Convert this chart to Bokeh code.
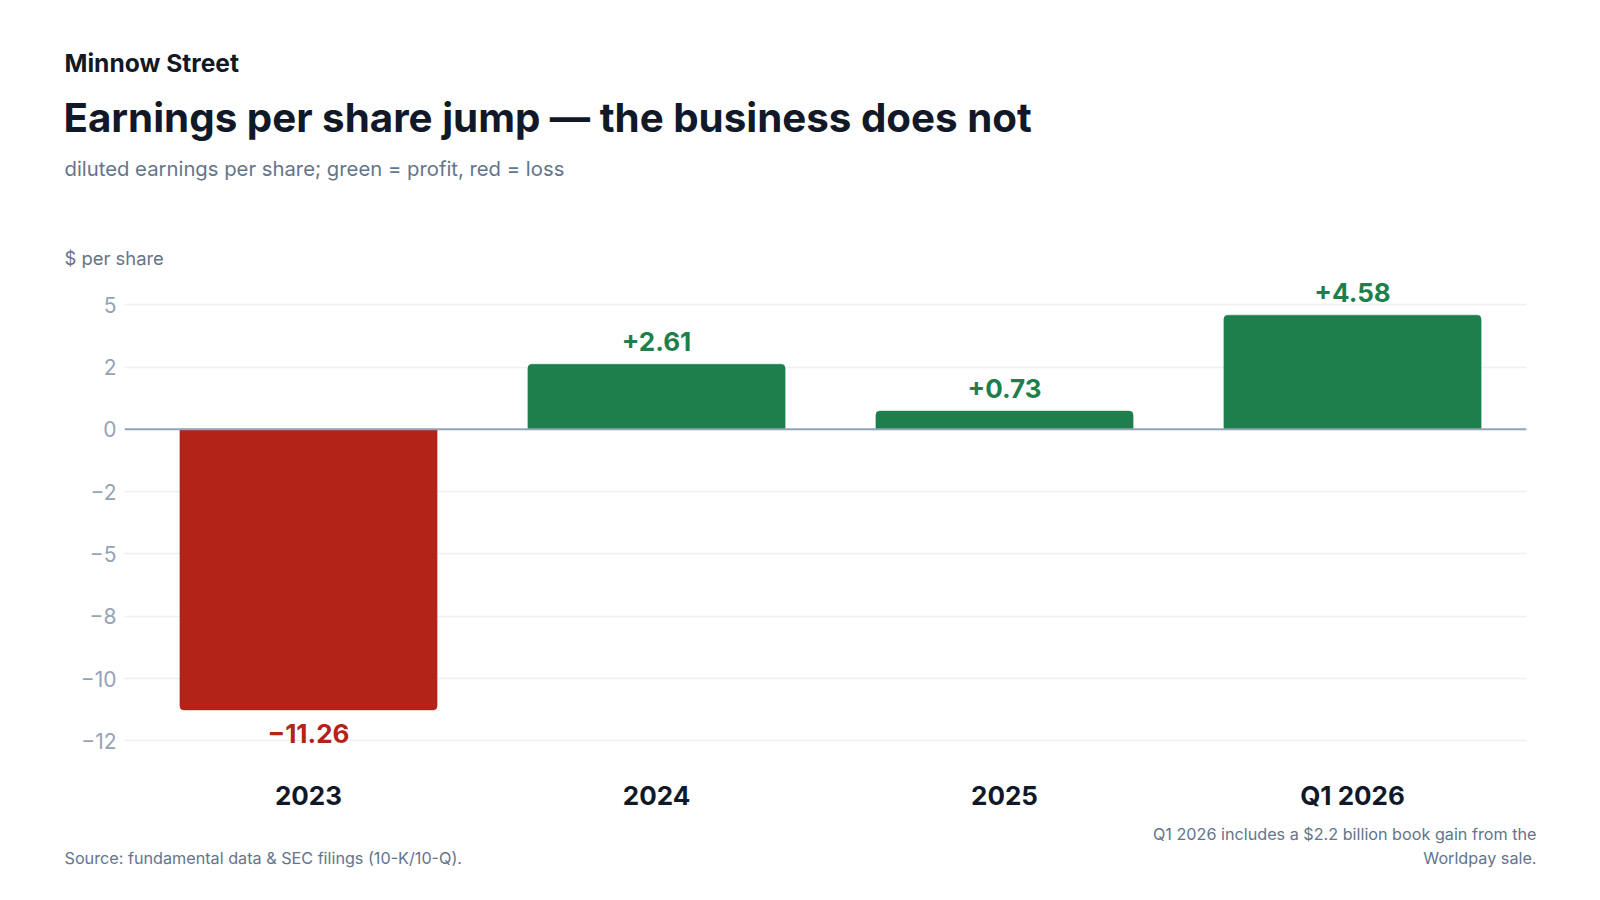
from bokeh.plotting import figure
from bokeh.layouts import column
from bokeh.models import (ColumnDataSource, Range1d, FixedTicker,
                          Span, Label, LabelSet)
from bokeh.core.properties import value
from bokeh.embed import file_html
from bokeh.resources import INLINE

# ---- data ----
periods = ["2023", "2024", "2025", "Q1 2026"]
eps = [-11.26, 2.61, 0.73, 4.58]
value_labels = ["\u221211.26", "+2.61", "+0.73", "+4.58"]
y_ticks = [5, 2.5, 0, -2.5, -5, -7.5, -10, -12.5]
y_tick_labels = ["5", "2", "0", "\u22122", "\u22125", "\u22128", "\u221210", "\u221212"]

GREEN = "#1e7f4c"
RED = "#b22318"
DARK = "#111827"
MUTED = "#64748b"
TICK = "#94a3b8"
GRID = "#edf0f4"
FONT = "Inter"
W = 1600

# ---- layout geometry (page pixels) ----
HEAD_H = 268
MAIN_TOP = HEAD_H
FRAME_TOP = 272
FRAME_BOT = 750
FRAME_L = 124
FRAME_R = 1526
BAND_L = 134          # where the first category band starts
ZERO_Y = 428.8
PX_PER_UNIT = 24.92
MAIN_BOT = 822
FOOT_H = 58


def text_strip(height):
    f = figure(width=W, height=height, x_range=Range1d(0, W), y_range=Range1d(0, height),
               x_axis_type=None, y_axis_type=None, output_backend="svg",
               toolbar_location=None, min_border=0)
    f.frame_align = False
    f.title.visible = False
    f.outline_line_color = None
    f.grid.visible = False
    f.background_fill_color = "white"
    f.border_fill_color = "white"
    return f


def lab(fig, top, height, text, px, py, size, color, style="normal", align="left"):
    fig.add_layout(Label(x=px, y=height - (py - top), x_units="screen", y_units="screen",
                         text=text, text_font=FONT, text_font_size=size,
                         text_color=color, text_font_style=style,
                         text_align=align, text_baseline="middle"))


# ---- header ----
head = text_strip(HEAD_H)
lab(head, 0, HEAD_H, "Minnow Street", 64, 62, "24.6px", DARK, "bold")
lab(head, 0, HEAD_H, "Earnings per share jump \u2014 the business does not", 63, 117, "40.3px", DARK, "bold")
lab(head, 0, HEAD_H, "diluted earnings per share; green = profit, red = loss", 64, 168, "20.3px", MUTED)
lab(head, 0, HEAD_H, "$ per share", 64, 257, "18.4px", MUTED)

# ---- main chart ----
n = len(periods)
xs = [i + 0.5 for i in range(n)]
pos = [i for i, v in enumerate(eps) if v >= 0]
neg = [i for i, v in enumerate(eps) if v < 0]

src_pos = ColumnDataSource(dict(
    x=[xs[i] for i in pos], top=[eps[i] for i in pos],
    bottom=[0] * len(pos), lab=[value_labels[i] for i in pos]))
src_neg = ColumnDataSource(dict(
    x=[xs[i] for i in neg], top=[0] * len(neg),
    bottom=[eps[i] for i in neg], lab=[value_labels[i] for i in neg]))

main_h = MAIN_BOT - MAIN_TOP
y_hi = (ZERO_Y - FRAME_TOP) / PX_PER_UNIT
y_lo = -(FRAME_BOT - ZERO_Y) / PX_PER_UNIT
band = (FRAME_R - BAND_L) / n
x_lo = -(BAND_L - FRAME_L) / band

p = figure(width=W, height=main_h, x_range=Range1d(x_lo, n),
           y_range=Range1d(y_lo, y_hi), output_backend="svg",
           toolbar_location=None, min_border_left=FRAME_L, min_border_right=W - FRAME_R,
           min_border_top=FRAME_TOP - MAIN_TOP, min_border_bottom=MAIN_BOT - FRAME_BOT)
p.frame_align = False
p.title.visible = False
p.outline_line_color = None
p.background_fill_color = "white"
p.border_fill_color = "white"

p.vbar(x="x", top="top", bottom="bottom", width=0.739, source=src_pos,
       fill_color=GREEN, line_color=GREEN, line_width=0.5,
       border_radius=(4, 4, 0, 0))
p.vbar(x="x", top="top", bottom="bottom", width=0.739, source=src_neg,
       fill_color=RED, line_color=RED, line_width=0.5,
       border_radius=(0, 0, 4, 4))

p.add_layout(Span(location=0, dimension="width", line_color=TICK, line_width=2))

p.add_layout(LabelSet(x="x", y="top", text="lab", source=src_pos,
                      text_align="center", text_baseline="middle", y_offset=23,
                      text_font=value(FONT), text_font_style="bold",
                      text_font_size="26px", text_color=GREEN))
p.add_layout(LabelSet(x="x", y="bottom", text="lab", source=src_neg,
                      text_align="center", text_baseline="middle", y_offset=-24,
                      text_font=value(FONT), text_font_style="bold",
                      text_font_size="26px", text_color=RED))

p.yaxis.ticker = FixedTicker(ticks=y_ticks)
p.yaxis.major_label_overrides = {t: l for t, l in zip(y_ticks, y_tick_labels)}
p.yaxis.axis_line_color = None
p.yaxis.major_tick_line_color = None
p.yaxis.minor_tick_line_color = None
p.yaxis.major_label_standoff = 2
p.yaxis.major_label_text_font = FONT
p.yaxis.major_label_text_font_size = "21px"
p.yaxis.major_label_text_color = TICK

p.xaxis.ticker = FixedTicker(ticks=xs)
p.xaxis.major_label_overrides = {x: name for x, name in zip(xs, periods)}
p.xaxis.axis_line_color = None
p.xaxis.major_tick_line_color = None
p.xaxis.minor_tick_line_color = None
p.xaxis.major_label_standoff = 23
p.xaxis.major_label_text_font = FONT
p.xaxis.major_label_text_font_style = "bold"
p.xaxis.major_label_text_font_size = "26px"
p.xaxis.major_label_text_color = DARK

p.xgrid.grid_line_color = None
p.ygrid.ticker = FixedTicker(ticks=y_ticks)
p.ygrid.grid_line_color = GRID
p.ygrid.grid_line_width = 1.5

# ---- footer ----
foot = text_strip(FOOT_H)
lab(foot, MAIN_BOT, FOOT_H, "Source: fundamental data & SEC filings (10-K/10-Q).", 64, 857, "16.2px", MUTED)
lab(foot, MAIN_BOT, FOOT_H, "Q1 2026 includes a $2.2 billion book gain from the", 1536, 833, "16.2px", MUTED, align="right")
lab(foot, MAIN_BOT, FOOT_H, "Worldpay sale.", 1536, 857, "16.2px", MUTED, align="right")

layout = column(head, p, foot, spacing=0)
open("out.html", "w").write(file_html(layout, INLINE))
